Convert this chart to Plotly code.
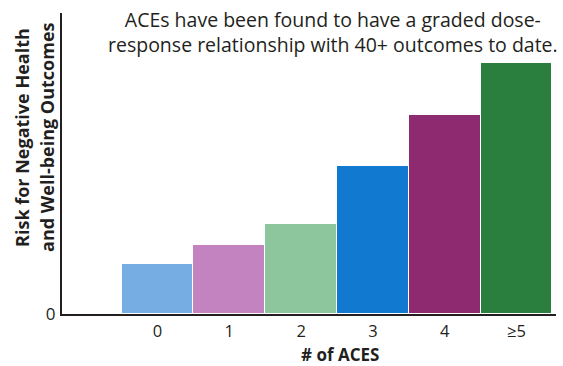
import plotly.graph_objects as go

# Number of adverse childhood experiences and relative risk (arbitrary units)
categories = ["0", "1", "2", "3", "4", "≥5"]
risk = [50, 69, 90, 148, 199, 251]
bar_colors = ["#76ade2", "#c382c0", "#8dc59c", "#1179cf", "#8e2a70", "#2a7f3f"]

title_lines = ["ACEs have been found to have a graded dose-",
               "response relationship with 40+ outcomes to date."]
y_title_lines = ["Risk for Negative Health", "and Well-being Outcomes"]
x_title = "# of ACES"

FONT = "Open Sans"
INK = "#231f20"

positions = list(range(len(categories)))

fig = go.Figure(go.Bar(
    x=positions,
    y=risk,
    width=1.0,
    marker=dict(color=bar_colors, line=dict(color="white", width=1)),
    hoverinfo="skip",
))

fig.update_layout(
    width=563, height=366,
    margin=dict(l=62, r=7, t=13, b=52),
    paper_bgcolor="white", plot_bgcolor="white",
    showlegend=False,
    bargap=0,
    font=dict(family=FONT, color=INK),
)

fig.update_xaxes(
    range=[-1.33, 5.55],
    tickvals=positions, ticktext=categories,
    ticks="outside", ticklen=1, tickcolor="rgba(0,0,0,0)",
    tickfont=dict(size=16.5, color=INK, family=FONT),
    showline=True, linecolor=INK, linewidth=2,
    showgrid=False, zeroline=False, fixedrange=True,
)
fig.update_yaxes(
    range=[0, 301],
    tickvals=[0], ticktext=["0"],
    ticks="outside", ticklen=1, tickcolor="rgba(0,0,0,0)",
    tickfont=dict(size=17, color=INK, family=FONT),
    showline=True, linecolor=INK, linewidth=2,
    showgrid=False, zeroline=False, fixedrange=True,
)

annotations = []
# Two-line heading inside the plot area
annotations.append(dict(
    text="<br>".join(title_lines), xref="paper", yref="paper",
    x=(333 - 62) / 494, y=1 - (19 / 301), xanchor="center", yanchor="middle",
    align="center", showarrow=False,
    font=dict(size=19.5, color=INK, family=FONT),
))
# Rotated y-axis title, two lines
for i, line in enumerate(y_title_lines):
    annotations.append(dict(
        text=f"<b>{line}</b>", xref="paper", yref="paper",
        x=(22 + 25 * i - 62) / 494, y=0.585, xanchor="center", yanchor="middle",
        textangle=-90, showarrow=False,
        font=dict(size=18, color=INK, family=FONT),
    ))
# x-axis title
annotations.append(dict(
    text=f"<b>{x_title}</b>", xref="paper", yref="paper",
    x=(340 - 62) / 494, y=-(354 - 314) / 301, xanchor="center", yanchor="middle",
    showarrow=False, font=dict(size=17, color=INK, family=FONT),
))
fig.update_layout(annotations=annotations)

fig.write_html("out.html")
